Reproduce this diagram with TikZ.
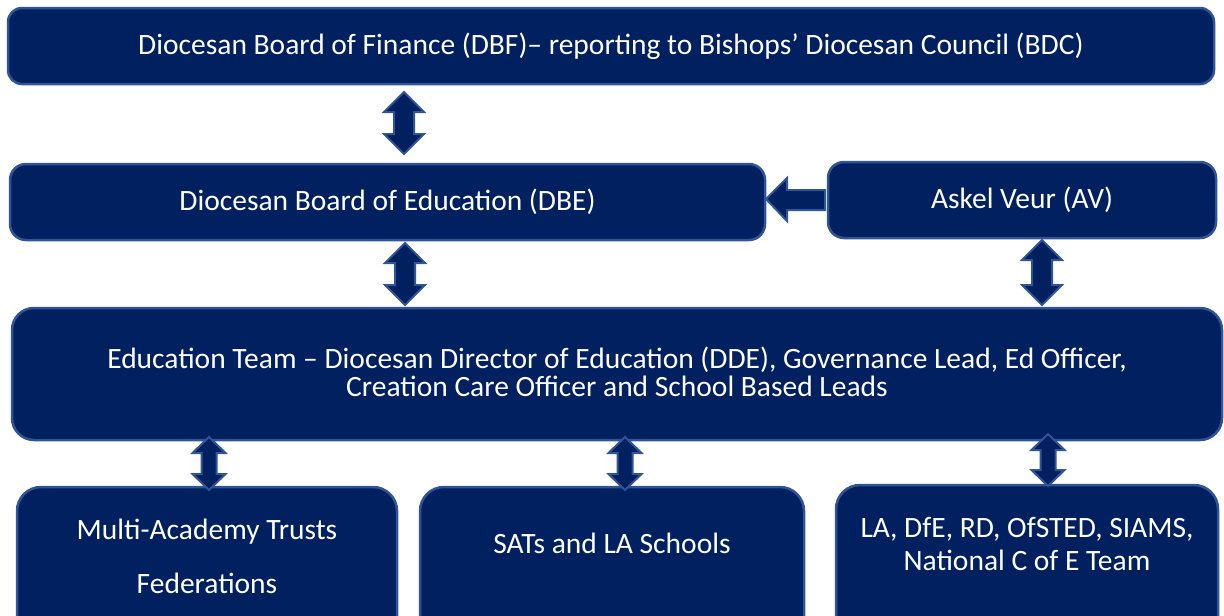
\documentclass[tikz,border=0pt]{standalone}
\usepackage{fontspec}
\setmainfont{Carlito}
\definecolor{navy}{HTML}{002060}
\definecolor{edge}{HTML}{2F5597}
\tikzset{
  box/.style={draw=edge, fill=navy, line width=2.5pt, text=white, align=center, inner sep=0pt,
    font=\fontsize{29.5}{28}\selectfont},
  blockarrow/.style={draw=edge, fill=navy, line width=2pt, line join=miter},
}
\newcommand\vdarr[6]{% x, ytop, ybot, halfhead, halfshaft, headlen
  \draw[blockarrow] (#1,#2) -- ({#1+#4},{#2+#6}) -- ({#1+#5},{#2+#6}) -- ({#1+#5},{#3-#6}) -- ({#1+#4},{#3-#6}) -- (#1,#3)
    -- ({#1-#4},{#3-#6}) -- ({#1-#5},{#3-#6}) -- ({#1-#5},{#2+#6}) -- ({#1-#4},{#2+#6}) -- cycle;}
\begin{document}
\begin{tikzpicture}[x=1pt,y=-1pt]
\useasboundingbox (0,0) rectangle (1224,616);
\clip (0,0) rectangle (1224,616);
\draw[box, rounded corners=14pt] (8,8) rectangle (1214,84)
  node[midway] (dbf) {Diocesan Board of Finance (DBF)– reporting to Bishops’ Diocesan Council (BDC)};
\draw[box, rounded corners=16pt] (10,164) rectangle (765,240)
  node[midway] (dbe) {Diocesan Board of Education (DBE)};
\draw[box, rounded corners=16pt] (828,162) rectangle (1216,238)
  node[midway] (av) {Askel Veur (AV)};
\draw[box, rounded corners=22pt] (12,308) rectangle (1222,440)
  node[midway, yshift=2pt] (edu) {Education Team – Diocesan Director of Education (DDE), Governance Lead, Ed Officer,\\Creation Care Officer and School Based Leads};
\draw[box, rounded corners=24pt] (17,487) rectangle (397,640)
  node (mat) at (207,556) {Multi-Academy Trusts\\[26pt]Federations};
\draw[box, rounded corners=24pt] (420,487) rectangle (804,640)
  node (sat) at (612,543) {SATs and LA Schools};
\draw[box, rounded corners=24pt] (836,485) rectangle (1218,640)
  node (la) at (1027,544) {LA, DfE, RD, OfSTED, SIAMS,\\[5pt]National C of E Team};
% vertical double arrows
\vdarr{404}{92}{154}{20}{10}{20}
\vdarr{405}{243}{305}{20}{10}{20}
\vdarr{1042}{240}{305}{20}{10}{20}
\vdarr{209}{437}{490}{16.5}{7.5}{16}
\vdarr{625}{437}{490}{16.5}{7.5}{16}
\vdarr{1048}{434}{486}{16.5}{7.5}{16}
% left arrow AV -> DBE
\draw[blockarrow] (766,199) -- (787,178) -- (787,190) -- (825,190) -- (825,210) -- (787,210) -- (787,221) -- cycle;
\end{tikzpicture}
\end{document}
